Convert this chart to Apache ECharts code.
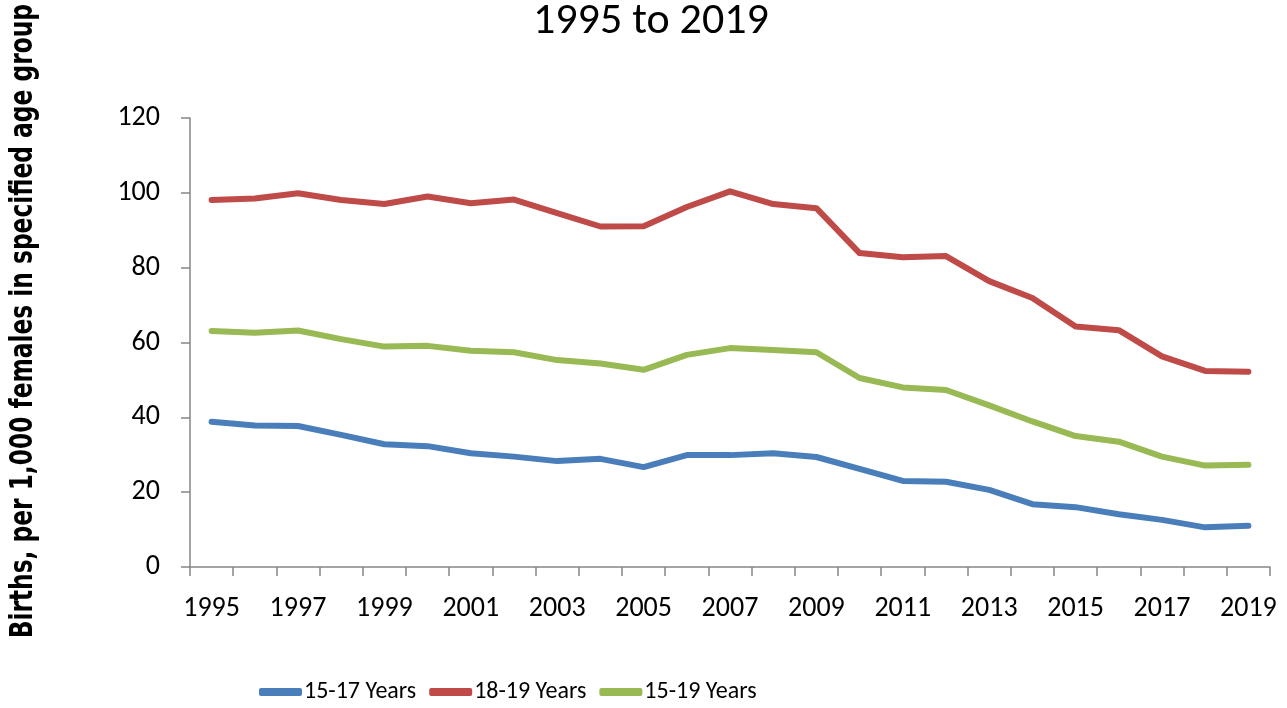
<!DOCTYPE html>
<html>
<head>
<meta charset="utf-8">
<title>Births per 1,000 females, 1995 to 2019</title>
<style>
  html, body { margin: 0; padding: 0; background: #fff; }
  #main { width: 1287px; height: 708px; }
</style>
</head>
<body>
<div id="main"></div>
<script src="https://cdn.jsdelivr.net/npm/echarts@6/dist/echarts.min.js"></script>
<script>
var years = ['1995', '1996', '1997', '1998', '1999', '2000', '2001', '2002', '2003', '2004',
  '2005', '2006', '2007', '2008', '2009', '2010', '2011', '2012', '2013', '2014',
  '2015', '2016', '2017', '2018', '2019'];

var age15to17 = [38.8, 37.8, 37.7, 35.3, 32.8, 32.3, 30.4, 29.5, 28.3, 28.9,
  26.7, 29.9, 29.9, 30.4, 29.4, 26.2, 23.0, 22.8, 20.6, 16.8,
  16.0, 14.1, 12.6, 10.6, 11.0];

var age18to19 = [98.1, 98.5, 99.9, 98.1, 97.0, 99.0, 97.2, 98.2, 94.6, 91.0,
  91.1, 96.2, 100.4, 97.0, 95.9, 83.9, 82.8, 83.1, 76.4, 71.9,
  64.3, 63.3, 56.3, 52.4, 52.2];

var age15to19 = [63.1, 62.6, 63.2, 60.9, 58.9, 59.1, 57.8, 57.4, 55.3, 54.4,
  52.7, 56.7, 58.5, 58.0, 57.4, 50.5, 48.0, 47.3, 43.2, 38.9,
  35.0, 33.5, 29.5, 27.1, 27.3];

var yTicks = { min: 0, max: 120, interval: 20 };

var font = 'Carlito, "Liberation Sans", sans-serif';
var axisGrey = '#868686';

function lineSeries(name, data, color) {
  return {
    name: name,
    type: 'line',
    data: data,
    symbol: 'none',
    smooth: false,
    lineStyle: { width: 6, color: color, cap: 'round', join: 'round' },
    itemStyle: { color: color }
  };
}

var option = {
  backgroundColor: '#fff',
  animation: false,
  title: {
    text: '1995 to 2019',
    left: 533,
    top: 0,
    padding: 0,
    textStyle: { fontFamily: font, fontSize: 44, fontWeight: 'normal', color: '#000' }
  },
  graphic: [{
    type: 'text',
    left: 8,
    top: 4,
    rotation: Math.PI / 2,
    scaleX: 0.81,
    style: {
      text: 'Births, per 1,000 females in specified age group',
      font: 'bold 32px "DejaVu Sans Condensed", sans-serif',
      fill: '#000'
    }
  }],
  legend: {
    left: 259,
    top: 680,
    padding: 0,
    icon: 'roundRect',
    itemWidth: 43,
    itemHeight: 8,
    itemGap: 13,
    textStyle: { fontFamily: font, fontSize: 24, color: '#000', padding: [0, 0, 0, -3] },
    data: ['15-17 Years', '18-19 Years', '15-19 Years']
  },
  grid: { left: 190, right: 17, top: 118, bottom: 141, containLabel: false },
  xAxis: {
    type: 'category',
    data: years,
    boundaryGap: true,
    axisLine: { lineStyle: { color: axisGrey, width: 1.5 } },
    axisTick: { show: true, interval: 0, length: 9, alignWithLabel: false, lineStyle: { color: axisGrey, width: 1.5 } },
    axisLabel: { interval: 1, margin: 28, color: '#000', fontFamily: font, fontSize: 28 },
    splitLine: { show: false }
  },
  yAxis: {
    type: 'value',
    min: yTicks.min,
    max: yTicks.max,
    interval: yTicks.interval,
    axisLine: { show: true, lineStyle: { color: axisGrey, width: 1.5 } },
    axisTick: { show: true, length: 9, lineStyle: { color: axisGrey, width: 1.5 } },
    axisLabel: { margin: 30, color: '#000', fontFamily: font, fontSize: 28 },
    splitLine: { show: false }
  },
  series: [
    lineSeries('15-17 Years', age15to17, '#4A7EBB'),
    lineSeries('18-19 Years', age18to19, '#BE4B48'),
    lineSeries('15-19 Years', age15to19, '#98B954')
  ]
};

var myChart = echarts.init(document.getElementById('main'));
myChart.setOption(option);
</script>
</body>
</html>
